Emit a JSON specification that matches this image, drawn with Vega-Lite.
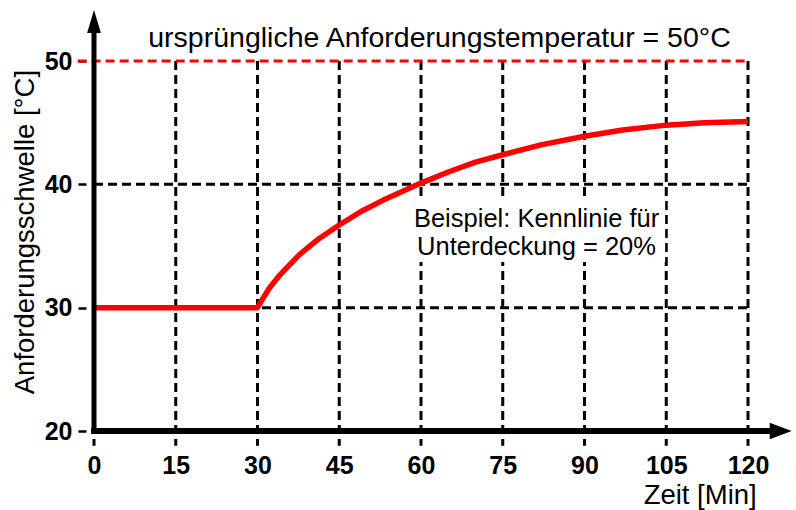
{
  "$schema": "https://vega.github.io/schema/vega-lite/v6.json",
  "width": 654,
  "height": 370,
  "autosize": {"type": "none"},
  "padding": {"left": 94, "top": 61, "right": 48, "bottom": 79},
  "background": "white",
  "config": {"view": {"stroke": null}, "font": "Liberation Sans"},
  "data": {"values": [{"label": "annotation"}]},
  "datasets": {
    "curve": [
      {"zeit": 0, "schwelle": 30},
      {"zeit": 30, "schwelle": 30},
      {"zeit": 31, "schwelle": 30.75},
      {"zeit": 32.2, "schwelle": 31.6},
      {"zeit": 34, "schwelle": 32.6},
      {"zeit": 37.7, "schwelle": 34.3},
      {"zeit": 41, "schwelle": 35.5},
      {"zeit": 45, "schwelle": 36.7},
      {"zeit": 49, "schwelle": 37.8},
      {"zeit": 53, "schwelle": 38.7},
      {"zeit": 60, "schwelle": 40.1},
      {"zeit": 65, "schwelle": 41.0},
      {"zeit": 70, "schwelle": 41.8},
      {"zeit": 75, "schwelle": 42.4},
      {"zeit": 82, "schwelle": 43.2},
      {"zeit": 90, "schwelle": 43.9},
      {"zeit": 97, "schwelle": 44.4},
      {"zeit": 105, "schwelle": 44.8},
      {"zeit": 112, "schwelle": 45.0},
      {"zeit": 120, "schwelle": 45.1}
    ],
    "vgrid": [
      {"t": 0}, {"t": 15}, {"t": 30}, {"t": 45}, {"t": 60},
      {"t": 75}, {"t": 90}, {"t": 105}, {"t": 120}
    ],
    "hgrid": [{"v": 30}, {"v": 40}]
  },
  "layer": [
    {
      "data": {"name": "vgrid"},
      "mark": {"type": "rule", "color": "black", "strokeWidth": 3, "strokeDash": [9, 5]},
      "encoding": {
        "x": {
          "field": "t", "type": "quantitative",
          "scale": {"domain": [0, 120], "nice": false, "zero": false},
          "axis": {
            "values": [0, 15, 30, 45, 60, 75, 90, 105, 120],
            "domain": false, "ticks": false, "tickSize": 0, "grid": false,
            "labelPadding": 22, "labelFontSize": 25, "labelFontWeight": "bold",
            "labelFont": "Liberation Sans",
            "labelColor": "black", "labelFlush": false, "labelOverlap": false,
            "title": null
          }
        },
        "y": {
          "datum": 50, "type": "quantitative",
          "scale": {"domain": [20, 50], "nice": false, "zero": false},
          "axis": {
            "values": [20, 30, 40, 50],
            "domain": false, "grid": false, "offset": 8,
            "ticks": true, "tickSize": 8, "tickWidth": 2.5, "tickColor": "black",
            "labelPadding": 6, "labelFontSize": 25, "labelFontWeight": "bold",
            "labelFont": "Liberation Sans",
            "labelColor": "black", "labelFlush": false, "labelOverlap": false,
            "title": null
          }
        },
        "y2": {"datum": 18.8}
      }
    },
    {
      "data": {"name": "hgrid"},
      "mark": {"type": "rule", "color": "black", "strokeWidth": 3, "strokeDash": [9, 5]},
      "encoding": {
        "y": {"field": "v", "type": "quantitative"},
        "x": {"datum": 0},
        "x2": {"datum": 120}
      }
    },
    {
      "mark": {"type": "rect", "color": "white", "opacity": 1},
      "encoding": {
        "x": {"datum": 58.0},
        "x2": {"datum": 104.8},
        "y": {"datum": 39.0},
        "y2": {"datum": 33.7}
      }
    },
    {
      "mark": {"type": "rule", "color": "#ff0000", "strokeWidth": 3, "strokeDash": [9, 5]},
      "encoding": {
        "y": {"datum": 50},
        "x": {"datum": -3},
        "x2": {"datum": 120}
      }
    },
    {
      "data": {"name": "curve"},
      "mark": {"type": "line", "color": "#ff0000", "strokeWidth": 5.5, "interpolate": "linear", "strokeJoin": "round"},
      "encoding": {
        "x": {"field": "zeit", "type": "quantitative"},
        "y": {"field": "schwelle", "type": "quantitative"}
      }
    },
    {
      "mark": {"type": "rule", "color": "black", "strokeWidth": 5, "strokeCap": "square"},
      "encoding": {
        "x": {"datum": 0},
        "y": {"datum": 20},
        "y2": {"datum": 52.3}
      }
    },
    {
      "mark": {"type": "rule", "color": "black", "strokeWidth": 6, "strokeCap": "square"},
      "encoding": {
        "y": {"datum": 20},
        "x": {"datum": 0},
        "x2": {"datum": 124.3}
      }
    },
    {
      "mark": {"type": "point", "filled": true, "color": "black", "opacity": 1, "shape": "M0,-1L0.6,1L-0.6,1Z", "size": 529},
      "encoding": {
        "x": {"datum": 0},
        "y": {"datum": 53.21}
      }
    },
    {
      "mark": {"type": "point", "filled": true, "color": "black", "opacity": 1, "shape": "M1,0L-1,0.75L-1,-0.75Z", "size": 484},
      "encoding": {
        "x": {"datum": 126.0},
        "y": {"datum": 20}
      }
    },
    {
      "mark": {"type": "text", "text": "ursprüngliche Anforderungstemperatur = 50°C", "fontSize": 28.5, "align": "center", "baseline": "alphabetic", "color": "black"},
      "encoding": {
        "x": {"datum": 63.4},
        "y": {"datum": 51.12}
      }
    },
    {
      "mark": {"type": "text", "text": "Beispiel: Kennlinie für\nUnterdeckung = 20%", "lineBreak": "\n", "lineHeight": 28.5, "fontSize": 25.5, "align": "center", "baseline": "alphabetic", "color": "black"},
      "encoding": {
        "x": {"datum": 81.2},
        "y": {"datum": 36.56}
      }
    },
    {
      "mark": {"type": "text", "text": "Anforderungsschwelle [°C]", "fontSize": 27.5, "angle": 270, "align": "center", "baseline": "alphabetic", "color": "black"},
      "encoding": {
        "x": {"datum": -11.06},
        "y": {"datum": 36.13}
      }
    },
    {
      "mark": {"type": "text", "text": "Zeit [Min]", "fontSize": 27.5, "align": "right", "baseline": "alphabetic", "color": "black"},
      "encoding": {
        "x": {"datum": 121.6},
        "y": {"datum": 14.05}
      }
    }
  ]
}
